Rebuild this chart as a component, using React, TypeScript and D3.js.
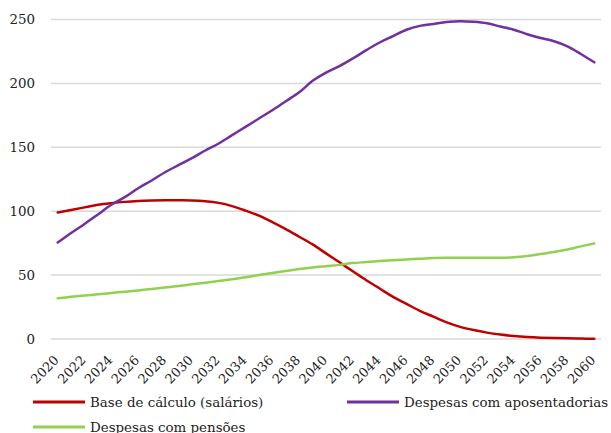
import React from "react";
import * as d3 from "d3";

const years: number[] = d3.range(2020, 2061);
const tickYears: number[] = d3.range(2020, 2061, 2);
const yTicks: number[] = [0, 50, 100, 150, 200, 250];

const baseCalculo: number[] = [
  99, 101, 103, 105, 106.3, 107.3, 108, 108.4, 108.6, 108.5,
  108.4, 107.8, 106.5, 104, 100.5, 96.5, 91.5, 86, 80, 74,
  67, 60, 53, 46, 39.5, 33, 27.5, 22, 17.5, 13,
  9.5, 7, 5, 3.5, 2.3, 1.5, 1, 0.7, 0.5, 0.3, 0.2,
];
const aposentadorias: number[] = [
  75.5, 83, 90, 97.5, 105, 111, 118, 124, 130.5, 136,
  141.5, 147.5, 153, 159.5, 166, 172.5, 179, 186, 193, 202,
  208.5, 213.5, 219.5, 226, 232, 237, 242, 245, 246.5, 248,
  248.7, 248.2, 247, 244.5, 242, 238.5, 235.5, 233, 229, 223, 216.5,
];
const pensoes: number[] = [
  31.8, 33, 34, 35, 36, 37, 38, 39.2, 40.3, 41.5,
  42.8, 44, 45.3, 46.8, 48.3, 50, 51.7, 53.2, 54.7, 56,
  57, 58, 59.4, 60.2, 61, 61.7, 62.2, 62.8, 63.3, 63.5,
  63.5, 63.5, 63.5, 63.6, 64, 65, 66.5, 68, 70, 72.5, 74.8,
];

const seriesNames: string[] = [
  "Base de cálculo (salários)",
  "Despesas com aposentadorias",
  "Despesas com pensões",
];
const seriesColors: string[] = ["#C00000", "#7030A0", "#92D050"];

const W = 611;
const H = 433;
const FONT = "'DejaVu Serif', serif";

export default function App() {
  const x = d3
    .scaleBand<number>()
    .domain(years)
    .range([51, 601]);
  const xc = (yr: number) => (x(yr) as number) + x.bandwidth() / 2;
  const y = d3.scaleLinear().domain([0, 250]).range([339, 19.5]);

  const series = [baseCalculo, aposentadorias, pensoes];
  const line = d3
    .line<number>()
    .x((_, i) => xc(years[i]))
    .y((v) => y(v))
    .curve(d3.curveCatmullRom.alpha(0.5));

  const legend = [
    { i: 0, lx: 33, ly: 402 },
    { i: 1, lx: 347, ly: 402 },
    { i: 2, lx: 33, ly: 427 },
  ];

  return (
    <svg
      width={W}
      height={H}
      style={{ position: "absolute", left: 0, top: 0, background: "#fff" }}
      fontFamily={FONT}
    >
      {yTicks.map((t) => (
        <g key={t}>
          <line x1={51} x2={601} y1={y(t)} y2={y(t)} stroke="#D9D9D9" strokeWidth={1.5} />
          <text x={35} y={y(t)} dy="0.35em" textAnchor="end" fontSize={13.4} fill="#222">
            {t}
          </text>
        </g>
      ))}
      {series.map((s, i) => (
        <path
          key={i}
          d={line(s) || ""}
          fill="none"
          stroke={seriesColors[i]}
          strokeWidth={2.5}
          strokeLinejoin="round"
          strokeLinecap="round"
        />
      ))}
      {tickYears.map((yr) => (
        <text
          key={yr}
          transform={`translate(${xc(yr) + 2},${361}) rotate(-45)`}
          textAnchor="end"
          fontSize={13}
          fill="#222"
        >
          {yr}
        </text>
      ))}
      {legend.map(({ i, lx, ly }) => (
        <g key={i}>
          <line x1={lx} x2={lx + 52} y1={ly} y2={ly} stroke={seriesColors[i]} strokeWidth={3} />
          <text x={lx + 57} y={ly} dy="0.35em" fontSize={13.4} fill="#222">
            {seriesNames[i]}
          </text>
        </g>
      ))}
    </svg>
  );
}
